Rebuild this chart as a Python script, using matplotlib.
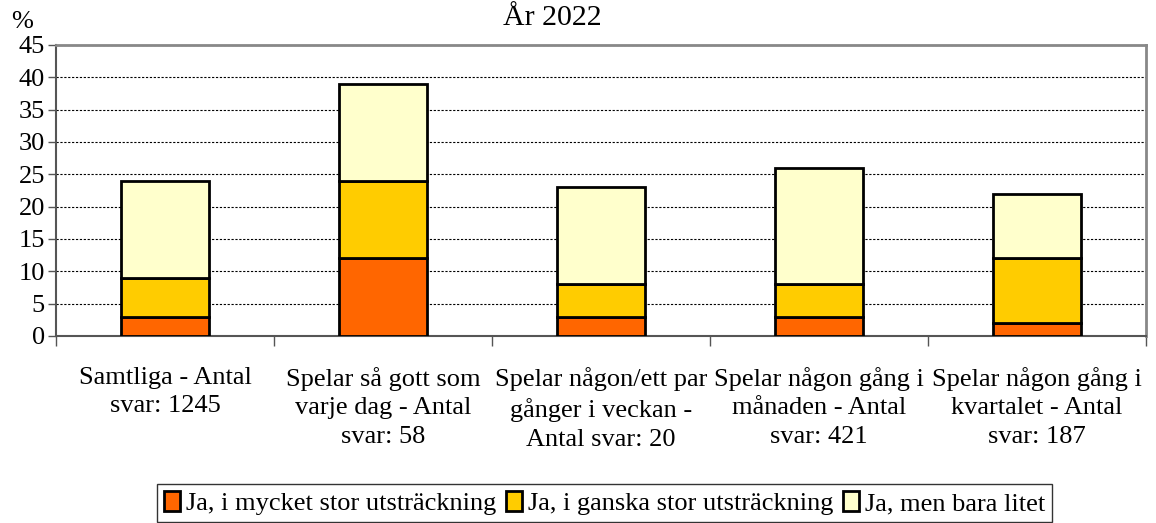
import numpy as np
import matplotlib
matplotlib.use("Agg")
import matplotlib.pyplot as plt

plt.rcParams["font.family"] = ["Liberation Serif", "DejaVu Serif"]

categories = [
    "Samtliga - Antal\nsvar: 1245",
    "Spelar så gott som\nvarje dag - Antal\nsvar: 58",
    "Spelar någon/ett par\ngånger i veckan -\nAntal svar: 20",
    "Spelar någon gång i\nmånaden - Antal\nsvar: 421",
    "Spelar någon gång i\nkvartalet - Antal\nsvar: 187",
]
series_names = [
    "Ja, i mycket stor utsträckning",
    "Ja, i ganska stor utsträckning",
    "Ja, men bara litet",
]
mycket_stor = [3, 12, 3, 3, 2]
ganska_stor = [6, 12, 5, 5, 10]
bara_litet = [15, 15, 15, 18, 10]
colors = ["#FF6600", "#FFCC00", "#FFFFCC"]

fs = 19

fig = plt.figure(figsize=(11.56, 5.23), dpi=100)
ax = fig.add_axes([0.0484, 0.3576, 0.943, 0.5564])

x = np.arange(len(categories))
bottom = np.zeros(len(categories))
for vals, name, col in zip([mycket_stor, ganska_stor, bara_litet], series_names, colors):
    ax.bar(x, vals, width=0.4, bottom=bottom, color=col, edgecolor="black",
           linewidth=2, label=name, zorder=3)
    bottom += np.array(vals)

ax.set_xlim(-0.5, len(categories) - 0.5)
ax.set_ylim(0, 45)
ax.set_yticks(range(0, 46, 5))
ax.tick_params(axis="y", labelsize=fs, length=6, width=1, color="#555555", pad=2)
ax.yaxis.grid(True, linestyle=(0, (2, 1.5)), color="black", linewidth=0.8)
ax.set_axisbelow(True)

# ticks between categories on x axis, labels centered under bars
ax.set_xticks(np.arange(-0.5, len(categories)), minor=False)
ax.set_xticklabels([])
ax.set_xticks(x, minor=True)
ax.set_xticklabels(categories, minor=True, fontsize=fs, linespacing=1.4)
ax.tick_params(axis="x", which="minor", length=0, pad=22)
ax.tick_params(axis="x", which="major", length=7, width=1, color="#555555")

for side in ["left", "bottom"]:
    ax.spines[side].set_color("#555555")
    ax.spines[side].set_linewidth(1.5)
for side in ["top", "right"]:
    ax.spines[side].set_color("#888888")
    ax.spines[side].set_linewidth(2)

fig.text(0.4775, 0.952, "År 2022", fontsize=21.5, ha="center", va="baseline")
fig.text(0.019, 0.958, "%", fontsize=fs, ha="center", va="center")

leg = fig.legend(loc="upper center", bbox_to_anchor=(0.523, 0.074), ncol=3,
                 fontsize=fs, frameon=True, fancybox=False, edgecolor="black",
                 handlelength=0.6, handleheight=0.8, handletextpad=0.25,
                 columnspacing=0.35, borderpad=0.25, borderaxespad=0)
leg.get_frame().set_linewidth(1)

fig.savefig("out.png", dpi=100)
